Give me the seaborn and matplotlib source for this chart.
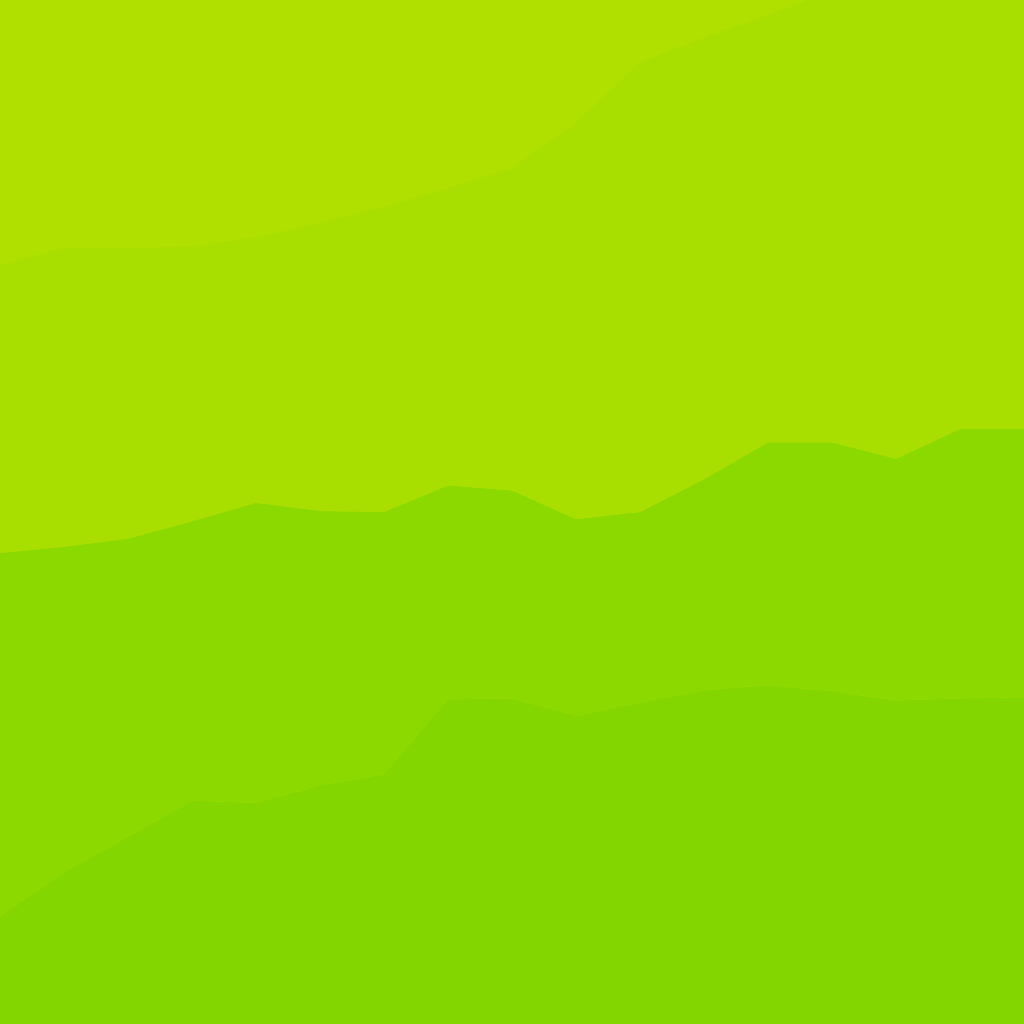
import matplotlib
matplotlib.use("Agg")
import matplotlib.pyplot as plt
import seaborn as sns
import numpy as np

# x positions (17 evenly spaced samples)
steps = list(range(17))

# layer thicknesses, bottom to top (units: % of plot height)
layer_bottom = [10.5, 14.8, 18.3, 21.8, 21.6, 23.3, 24.4, 31.7, 31.8, 30.1,
                31.4, 32.6, 33.1, 32.5, 31.6, 31.8, 31.9]
layer_middle = [35.5, 31.8, 29.1, 27.3, 29.3, 26.8, 25.6, 20.9, 20.3, 19.2,
                18.6, 20.6, 23.7, 24.3, 23.6, 26.3, 26.2]
layer_upper = [28.1, 29.2, 28.4, 26.8, 25.9, 28.1, 29.8, 29.0, 31.5, 38.7,
               43.9, 43.1, 41.7, 44.1, 47.2, 45.3, 45.8]

colors = ["#84D600", "#8CD900", "#A8DF00"]
background = "#B0E000"

sns.set_theme(style="white")

fig = plt.figure(figsize=(10.24, 10.24), dpi=100)
ax = fig.add_axes([0, 0, 1, 1])
ax.set_facecolor(background)
fig.patch.set_facecolor(background)

ax.stackplot(steps, layer_bottom, layer_middle, layer_upper,
             colors=colors, linewidth=0, edgecolor="none")

ax.set_xlim(0, 16)
ax.set_ylim(0, 100)
ax.set_axis_off()

fig.savefig("out.png", dpi=100, facecolor=background)
